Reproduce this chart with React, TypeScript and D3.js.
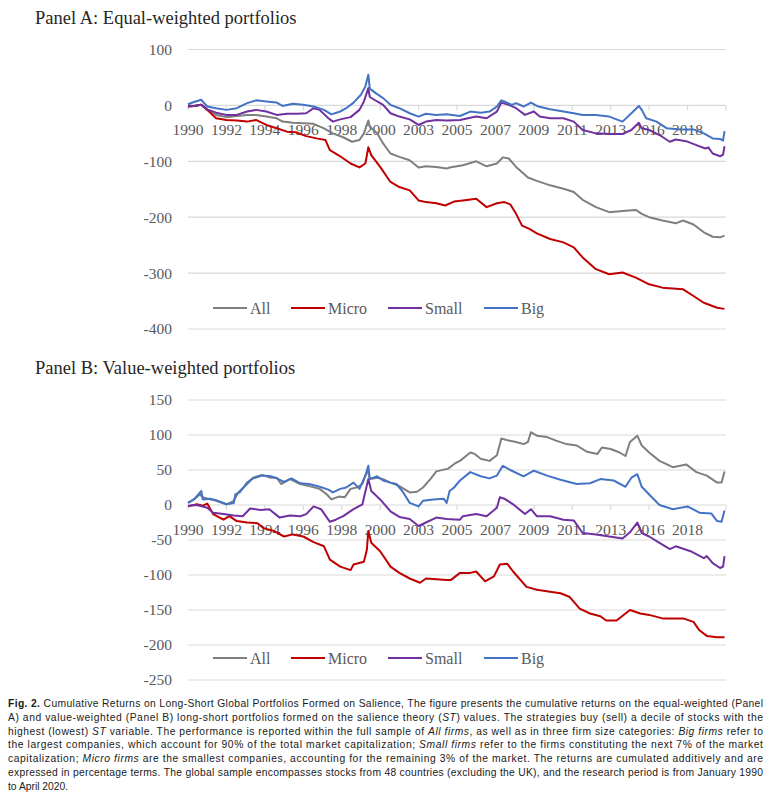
import React from 'react';
import * as d3 from 'd3';

type Pt = [number, number];

// Months since Jan 1990 (0) to Apr 2020 (363), cumulative return in %
const seriesNames = ['All', 'Micro', 'Small', 'Big'];
const seriesColors = ['#7f7f7f', '#c00000', '#7030a0', '#4472c4'];

const yearLabels = ['1990', '1992', '1994', '1996', '1998', '2000', '2003', '2005', '2007', '2009', '2011', '2013', '2016', '2018'];
const monthsPerTick = 26;
const totalMonths = 364;

const eqTicks = [100, 0, -100, -200, -300, -400];
const vwTicks = [150, 100, 50, 0, -50, -100, -150, -200, -250];

const eqAll: Pt[] = [[0,0],[4,-1],[9,1],[13,-8],[19,-17],[26,-21],[33,-19],[40,-17],[46,-17],[53,-20],[60,-23],[64,-29],[71,-31],[78,-32],[85,-33],[92,-41],[98,-50],[105,-57],[111,-65],[116,-62],[119,-50],[122,-27],[123,-38],[128,-50],[132,-68],[137,-86],[143,-92],[150,-98],[156,-111],[161,-109],[168,-110],[175,-113],[177,-111],[186,-107],[195,-100],[202,-109],[209,-104],[213,-93],[217,-95],[222,-110],[230,-129],[236,-135],[245,-143],[254,-149],[261,-155],[267,-169],[276,-182],[285,-191],[294,-189],[303,-187],[307,-194],[312,-200],[321,-206],[330,-211],[335,-206],[342,-213],[349,-227],[355,-235],[360,-236],[363,-233]];
const eqMicro: Pt[] = [[0,-2],[4,-1],[9,1],[13,-8],[19,-23],[26,-26],[33,-27],[40,-29],[46,-26],[53,-35],[60,-41],[67,-47],[73,-48],[80,-55],[87,-59],[93,-62],[96,-80],[103,-91],[110,-104],[116,-111],[120,-104],[122,-75],[124,-89],[130,-110],[137,-137],[143,-146],[150,-152],[156,-170],[161,-173],[168,-175],[174,-179],[180,-172],[186,-170],[195,-167],[202,-182],[209,-175],[214,-173],[218,-177],[222,-194],[226,-215],[231,-221],[236,-229],[245,-239],[254,-245],[261,-254],[267,-272],[276,-293],[285,-302],[294,-299],[303,-308],[312,-320],[321,-326],[335,-329],[342,-341],[349,-353],[358,-362],[363,-364]];
const eqSmall: Pt[] = [[0,-2],[4,-1],[9,1],[13,-7],[19,-13],[26,-17],[33,-17],[40,-11],[46,-8],[53,-11],[60,-17],[67,-15],[74,-15],[80,-14],[85,-5],[89,-8],[95,-23],[98,-29],[103,-25],[110,-21],[116,-8],[119,7],[122,31],[123,15],[128,7],[132,1],[137,-14],[143,-20],[150,-25],[156,-35],[161,-29],[168,-26],[175,-27],[184,-26],[195,-20],[202,-23],[209,-11],[212,5],[217,1],[222,-5],[228,-17],[234,-11],[238,-20],[245,-23],[254,-23],[261,-29],[267,-44],[276,-50],[285,-51],[294,-51],[300,-44],[305,-31],[307,-41],[312,-44],[319,-53],[326,-65],[330,-61],[337,-64],[344,-71],[350,-77],[352,-75],[355,-86],[360,-91],[362,-88],[363,-73]];
const eqBig: Pt[] = [[0,2],[4,6],[9,10],[13,-2],[19,-5],[26,-8],[33,-5],[40,4],[46,9],[53,7],[60,5],[64,-1],[71,3],[78,1],[85,-2],[92,-8],[97,-16],[103,-11],[107,-5],[112,5],[117,19],[120,34],[122,55],[123,30],[127,22],[132,13],[137,1],[143,-5],[150,-14],[156,-20],[161,-15],[168,-17],[175,-16],[184,-19],[191,-11],[198,-13],[204,-11],[209,-2],[212,9],[214,7],[219,1],[222,4],[227,-2],[232,5],[237,-2],[245,-7],[254,-11],[261,-14],[267,-17],[276,-17],[285,-20],[294,-29],[300,-14],[305,-1],[307,-8],[310,-23],[317,-29],[324,-41],[333,-43],[342,-43],[349,-50],[355,-59],[360,-60],[362,-63],[363,-46]];

const vwAll: Pt[] = [[0,3],[4,8],[8,15],[10,11],[15,8],[19,6],[26,1],[31,6],[34,18],[40,30],[44,39],[50,43],[56,39],[60,39],[63,30],[69,37],[76,30],[82,27],[89,23],[94,15],[97,8],[102,12],[106,11],[110,23],[114,25],[118,30],[120,42],[122,49],[123,37],[128,39],[132,37],[137,32],[143,27],[150,18],[155,19],[159,25],[164,37],[168,48],[176,52],[181,60],[184,63],[191,75],[194,73],[198,66],[204,63],[209,71],[212,95],[217,92],[222,90],[227,87],[230,90],[232,104],[236,99],[243,97],[249,92],[256,87],[263,85],[270,76],[277,73],[280,82],[286,80],[292,75],[296,70],[299,90],[304,99],[307,85],[312,75],[319,63],[328,54],[337,58],[344,47],[351,42],[358,32],[361,32],[363,48]];
const vwMicro: Pt[] = [[0,-2],[6,1],[10,-1],[13,2],[17,-13],[24,-21],[28,-16],[33,-23],[40,-25],[47,-26],[51,-33],[58,-37],[65,-45],[71,-42],[78,-45],[85,-53],[92,-59],[96,-78],[103,-88],[110,-93],[112,-85],[119,-81],[121,-64],[122,-37],[124,-54],[130,-66],[137,-88],[143,-97],[150,-105],[157,-111],[161,-105],[168,-106],[175,-107],[178,-107],[184,-97],[191,-97],[195,-95],[201,-109],[207,-102],[211,-85],[216,-84],[220,-95],[229,-117],[236,-121],[245,-124],[252,-126],[258,-131],[265,-148],[272,-155],[279,-159],[283,-165],[290,-165],[299,-150],[306,-155],[312,-157],[321,-162],[335,-162],[342,-167],[346,-179],[351,-187],[358,-189],[363,-189]];
const vwSmall: Pt[] = [[0,-1],[6,0],[13,-4],[17,-11],[24,-13],[31,-15],[37,-16],[42,-5],[49,-7],[55,-6],[62,-18],[69,-15],[76,-16],[80,-13],[85,-2],[90,-6],[96,-24],[100,-21],[105,-16],[112,-6],[118,1],[122,37],[124,20],[130,8],[137,-9],[143,-17],[150,-20],[156,-30],[161,-25],[168,-18],[175,-20],[184,-21],[186,-16],[195,-13],[202,-16],[209,-4],[211,11],[214,9],[220,1],[228,-13],[232,-6],[236,-16],[245,-16],[254,-21],[261,-22],[267,-40],[276,-42],[285,-45],[294,-48],[299,-39],[304,-25],[307,-40],[312,-45],[319,-54],[326,-63],[330,-59],[340,-66],[349,-76],[351,-73],[355,-83],[360,-90],[362,-88],[363,-73]];
const vwBig: Pt[] = [[0,3],[4,8],[7,15],[9,20],[10,8],[15,9],[19,7],[26,1],[31,3],[32,15],[35,18],[40,32],[44,38],[50,42],[56,41],[60,38],[65,33],[70,38],[76,31],[82,30],[89,26],[95,22],[98,18],[103,23],[107,25],[112,32],[116,23],[120,42],[122,56],[123,37],[128,41],[132,35],[137,32],[141,30],[145,20],[150,3],[156,-2],[159,6],[166,8],[173,9],[175,3],[177,20],[180,25],[184,35],[191,47],[198,41],[204,38],[209,42],[213,56],[218,50],[227,41],[234,49],[243,42],[252,36],[263,30],[272,31],[279,37],[288,35],[296,26],[300,39],[304,44],[307,26],[312,15],[319,0],[328,-6],[338,-2],[346,-11],[354,-12],[358,-23],[361,-24],[363,-8]];

const captionLines: { text: string; style?: 'b' | 'i' }[][] = [
  [{ text: 'Fig. 2.', style: 'b' }, { text: ' Cumulative Returns on Long-Short Global Portfolios Formed on Salience, The figure presents the cumulative returns on the equal-weighted (Panel' }],
  [{ text: 'A) and value-weighted (Panel B) long-short portfolios formed on the salience theory (' }, { text: 'ST', style: 'i' }, { text: ') values. The strategies buy (sell) a decile of stocks with the' }],
  [{ text: 'highest (lowest) ' }, { text: 'ST', style: 'i' }, { text: ' variable. The performance is reported within the full sample of ' }, { text: 'All firms', style: 'i' }, { text: ', as well as in three firm size categories: ' }, { text: 'Big firms', style: 'i' }, { text: ' refer to' }],
  [{ text: 'the largest companies, which account for 90% of the total market capitalization; ' }, { text: 'Small firms', style: 'i' }, { text: ' refer to the firms constituting the next 7% of the market' }],
  [{ text: 'capitalization; ' }, { text: 'Micro firms', style: 'i' }, { text: ' are the smallest companies, accounting for the remaining 3% of the market. The returns are cumulated additively and are' }],
  [{ text: 'expressed in percentage terms. The global sample encompasses stocks from 48 countries (excluding the UK), and the research period is from January 1990' }],
  [{ text: 'to April 2020.' }],
];

const X0 = 188;
const X1 = 726;
const FONT = '"Liberation Serif", "Times New Roman", serif';
const AXIS_COLOR = '#595959';
const GRID = '#d9d9d9';

interface PanelProps {
  title: string;
  titleY: number;
  domain: [number, number];
  range: [number, number];
  ticks: number[];
  data: Pt[][];
  legendY: number;
}

function Panel({ title, titleY, domain, range, ticks, data, legendY }: PanelProps) {
  const x = d3.scaleLinear().domain([0, totalMonths]).range([X0, X1]);
  const y = d3.scaleLinear().domain(domain).range(range);
  const line = d3.line<Pt>().x(d => x(d[0])).y(d => y(d[1]));
  const zeroY = y(0);
  const tickIdx = d3.range(0, yearLabels.length + 1);
  const legendX = [213, 291, 388, 484];
  return (
    <g>
      <text x={35} y={titleY} fontFamily={FONT} fontSize={18.5} fill="#262626">{title}</text>
      {ticks.map(t => (
        <g key={t}>
          <line x1={X0} x2={X1} y1={y(t)} y2={y(t)} stroke={GRID} strokeWidth={1.2} />
          <text x={172} y={y(t)} dy="0.35em" textAnchor="end" fontFamily={FONT} fontSize={15.5} fill={AXIS_COLOR}>{t}</text>
        </g>
      ))}
      {tickIdx.map(i => (
        <line key={i} x1={x(i * monthsPerTick)} x2={x(i * monthsPerTick)} y1={zeroY} y2={zeroY + 5} stroke={GRID} strokeWidth={1.2} />
      ))}
      {yearLabels.map((lab, i) => (
        <text key={lab} x={x(i * monthsPerTick)} y={zeroY + 30} textAnchor="middle" fontFamily={FONT} fontSize={15.5} fill={AXIS_COLOR}>{lab}</text>
      ))}
      {data.map((s, i) => (
        <path key={i} d={line(s) || ''} fill="none" stroke={seriesColors[i]} strokeWidth={2} strokeLinejoin="round" />
      ))}
      {seriesNames.map((n, i) => (
        <g key={n}>
          <line x1={legendX[i]} x2={legendX[i] + 34} y1={legendY} y2={legendY} stroke={seriesColors[i]} strokeWidth={2.2} />
          <text x={legendX[i] + 37} y={legendY} dy="0.35em" fontFamily={FONT} fontSize={16} fill={AXIS_COLOR}>{n}</text>
        </g>
      ))}
    </g>
  );
}

export default function App() {
  return (
    <svg width={772} height={807} style={{ position: 'absolute', left: 0, top: 0, background: '#fff' }}>
      <rect width={772} height={807} fill="#fff" />
      <Panel title="Panel A: Equal-weighted portfolios" titleY={24} domain={[-400, 100]} range={[329, 49.5]} ticks={eqTicks}
        data={[eqAll, eqMicro, eqSmall, eqBig]} legendY={308} />
      <Panel title="Panel B: Value-weighted portfolios" titleY={374} domain={[-250, 150]} range={[680, 400]} ticks={vwTicks}
        data={[vwAll, vwMicro, vwSmall, vwBig]} legendY={658} />
      {captionLines.map((ln, i) => {
        const last = i === captionLines.length - 1;
        return (
          <text key={i} x={8} y={707 + i * 13.8} fontFamily='"Liberation Sans", Arial, sans-serif' fontSize={10.3} fill="#1a1a1a"
            {...(last ? {} : { textLength: 755, lengthAdjust: 'spacing' })}>
            {ln.map((seg, j) => (
              <tspan key={j} fontWeight={seg.style === 'b' ? 'bold' : undefined} fontStyle={seg.style === 'i' ? 'italic' : undefined}>{seg.text}</tspan>
            ))}
          </text>
        );
      })}
    </svg>
  );
}
